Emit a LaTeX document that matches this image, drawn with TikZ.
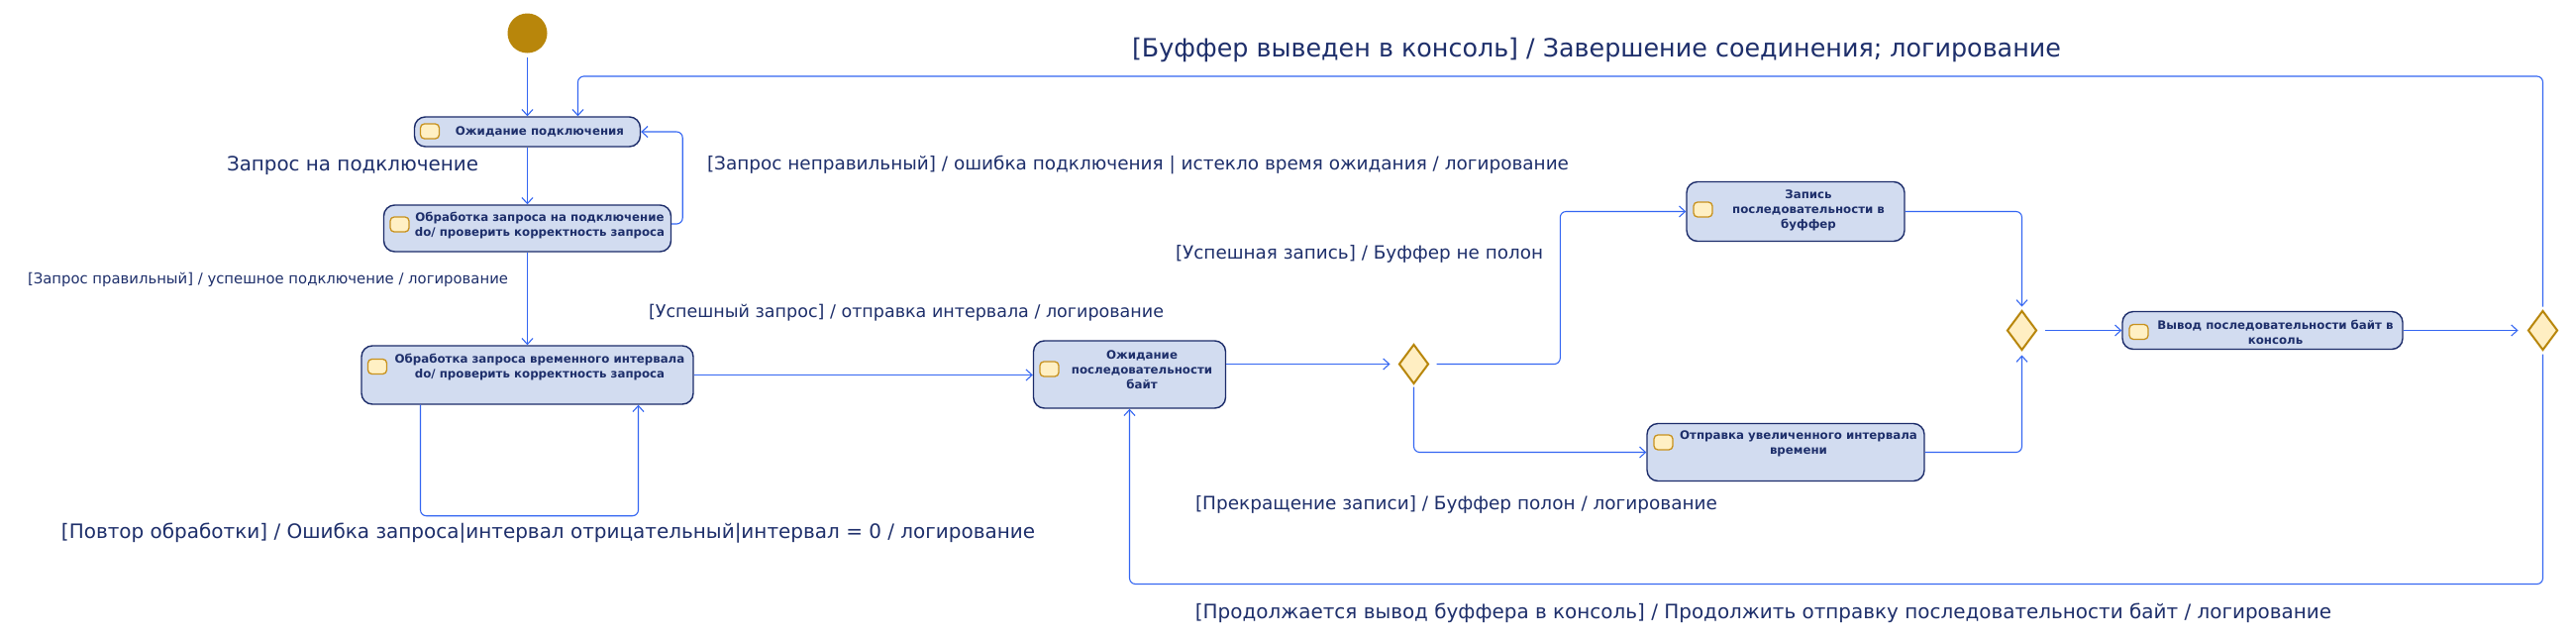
\documentclass[tikz,border=0pt]{standalone}
\usepackage{fontspec}
\setmainfont{DejaVu Sans}
\usepackage{graphicx}
\usetikzlibrary{arrows.meta,shapes.geometric,calc}
\definecolor{nodef}{HTML}{D2DCF0}
\definecolor{nodeb}{HTML}{1C2C6A}
\definecolor{txtc}{HTML}{1E2F6B}
\definecolor{arrc}{HTML}{3466F2}
\definecolor{dfill}{HTML}{FFEEC2}
\definecolor{dbord}{HTML}{B8860B}
\definecolor{ifill}{HTML}{FFF0C4}
\definecolor{ibord}{HTML}{C8921E}
\newcommand{\fitw}[2]{\resizebox{#1pt}{!}{#2}}
\begin{document}
\begin{tikzpicture}[x=1pt,y=-1pt,
  statebox/.style={rectangle, rounded corners=11pt, draw=nodeb, fill=nodef, line width=1.4pt, inner sep=0pt},
  stxt/.style={align=center, text=txtc, font=\bfseries\fontsize{11.8}{15}\selectfont, inner sep=0pt},
  icon/.style={rectangle, rounded corners=4pt, draw=ibord, fill=ifill, line width=1.3pt, minimum width=19pt, minimum height=15pt, inner sep=0pt},
  choice/.style={diamond, draw=dbord, fill=dfill, line width=2pt, minimum width=30pt, minimum height=40pt, inner sep=0pt},
  conn/.style={draw=arrc, line width=1.1pt, rounded corners=6pt, -{Straight Barb[length=6pt,width=11pt]}},
  lbl/.style={text=txtc, inner sep=0pt, font=\fontsize{20}{24}\selectfont}]
\fill[white] (0,0) rectangle (2601,646);
\useasboundingbox (0,0) rectangle (2601,646);

% start
\node[circle, fill=dbord, minimum size=40pt, inner sep=0pt] (start) at (532.5,33.5) {};

% states
\node[statebox, minimum width=228pt, minimum height=30pt] (n1) at (532.5,133) {};
\node[icon] (n1i) at (434,132.5) {};
\node[stxt] (n1t) at (545,133) {Ожидание подключения};

\node[statebox, minimum width=290pt, minimum height=47pt] (n2) at (532.5,230.5) {};
\node[icon] (n2i) at (403.5,226.5) {};
\node[stxt] (n2t) at (545,227.5) {Обработка запроса на подключение\\do/ проверить корректность запроса};

\node[statebox, minimum width=335pt, minimum height=59pt] (n3) at (532.5,378.5) {};
\node[icon] (n3i) at (381,370) {};
\node[stxt] (n3t) at (545,370.5) {Обработка запроса временного интервала\\do/ проверить корректность запроса};

\node[statebox, minimum width=194pt, minimum height=68pt] (n4) at (1140.5,378) {};
\node[icon] (n4i) at (1059.5,372.5) {};
\node[stxt] (n4t) at (1153,373) {Ожидание\\последовательности\\байт};

\node[choice] (d1) at (1427.5,367.5) {};

\node[statebox, minimum width=220pt, minimum height=60pt] (n5) at (1813,213.5) {};
\node[icon] (n5i) at (1719.5,211.5) {};
\node[stxt] (n5t) at (1826,212) {Запись\\последовательности в\\буффер};

\node[statebox, minimum width=280pt, minimum height=58pt] (n6) at (1803,456.5) {};
\node[icon] (n6i) at (1679.5,446.5) {};
\node[stxt] (n6t) at (1816,447.5) {Отправка увеличенного интервала\\времени};

\node[choice] (d2) at (2041.5,333.5) {};

\node[statebox, minimum width=283pt, minimum height=38pt] (n7) at (2284.5,333.5) {};
\node[icon] (n7i) at (2159.5,335) {};
\node[stxt] (n7t) at (2297.5,335.5) {Вывод последовательности байт в\\консоль};

\node[choice] (d3) at (2567.5,333.5) {};

% connectors
\draw[conn, shorten <=4pt] (start.south) -- (start.south |- n1.north);
\draw[conn] (n1.south) -- (n2.north);
\draw[conn] ([yshift=4.5pt]n2.east) -| ([xshift=42pt]n1.east) -- (n1.east);
\draw[conn] (n2.south) -- (n3.north);
\draw[conn] (n3.east) -- (n3.east -| n4.west);
\draw[conn] ([xshift=-108pt]n3.south) -- ++(0,112) -| ([xshift=112pt]n3.south);
\draw[conn, shorten >=8pt] (d1.west -| n4.east) -- (d1.west);
\draw[conn, shorten <=7pt] (d1.east) -| ([xshift=-127pt]n5.west) -- (n5.west);
\draw[conn, shorten <=2pt] (d1.south) |- (n6.west);
\draw[conn, shorten >=3pt] (n5.east) -| (d2.north);
\draw[conn, shorten >=4pt] (n6.east) -| (d2.south);
\draw[conn, shorten <=7pt] (d2.east) -- (d2.east -| n7.west);
\draw[conn, shorten >=9pt] (d3.west -| n7.east) -- (d3.west);
\draw[conn, shorten <=3pt] (d3.north) -- ++(0,-235.5) -| ([xshift=51pt]n1.north);
\draw[conn, shorten <=3pt] (d3.south) -- ++(0,235) -| (n4.south);

% labels
\node[lbl] (l1) at (356,167) {\fitw{254}{Запрос на подключение}};
\node[lbl] (l2) at (1149,167) {\fitw{870}{[Запрос неправильный] / ошибка подключения | истекло время ожидания / логирование}};
\node[lbl] (l3) at (270.5,282) {\fitw{485}{[Запрос правильный] / успешное подключение / логирование}};
\node[lbl] (l4) at (915,316) {\fitw{520}{[Успешный запрос] / отправка интервала / логирование}};
\node[lbl] (l5) at (553.5,538) {\fitw{983}{[Повтор обработки] / Ошибка запроса|интервал отрицательный|интервал = 0 / логирование}};
\node[lbl] (l6) at (1372.5,256) {\fitw{371}{[Успешная запись] / Буффер не полон}};
\node[lbl] (l7) at (1470.5,509) {\fitw{527}{[Прекращение записи] / Буффер полон / логирование}};
\node[lbl] (l8) at (1780.5,619) {\fitw{1147}{[Продолжается вывод буффера в консоль] / Продолжить отправку последовательности байт / логирование}};
\node[lbl] (l9) at (1612,50) {\fitw{938}{[Буффер выведен в консоль] / Завершение соединения; логирование}};
\end{tikzpicture}
\end{document}
